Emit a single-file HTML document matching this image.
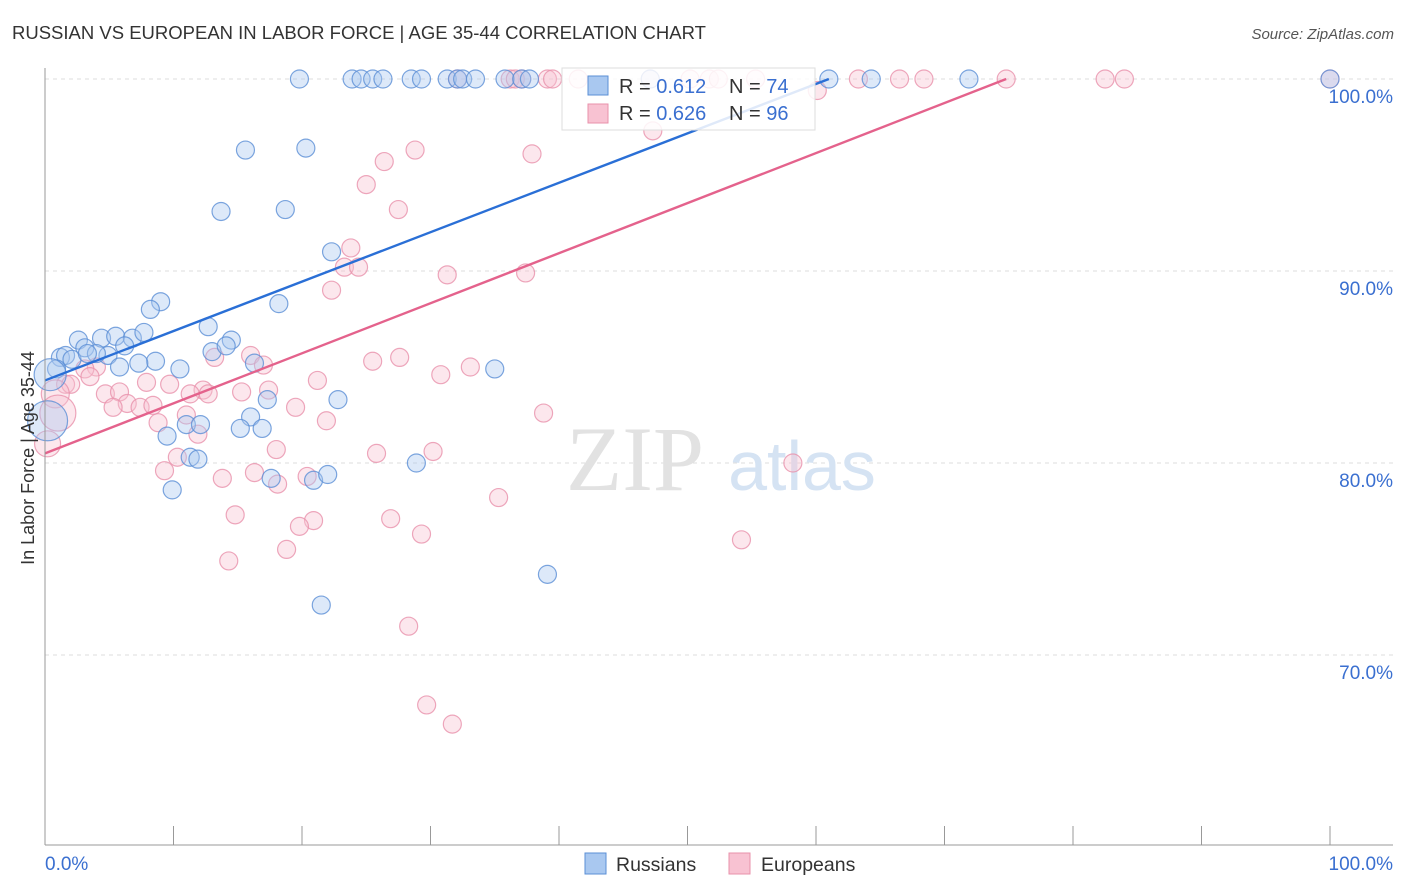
<!DOCTYPE html>
<html><head><meta charset="utf-8"><style>
body{margin:0;background:#fff;font-family:"Liberation Sans",sans-serif;}
svg{display:block}
</style></head><body>
<svg id="chart" width="1406" height="892">
<text x="12" y="39" font-size="18.5" fill="#333">RUSSIAN VS EUROPEAN IN LABOR FORCE | AGE 35-44 CORRELATION CHART</text>
<text x="1394" y="39" font-size="15" fill="#555" font-style="italic" text-anchor="end">Source: ZipAtlas.com</text>
<g id="grid"></g>
<g>
<text x="635" y="490" font-size="92" fill="#e2e2e2" font-family="Liberation Serif,serif" text-anchor="middle">ZIP</text>
<text x="802" y="490" font-size="70" fill="#d5e3f3" text-anchor="middle">atlas</text>
</g>
<g id="points"></g>
<g id="lines"></g>
<g id="axes"></g>
<text transform="translate(34,458) rotate(-90)" font-size="18" fill="#333" text-anchor="middle">In Labor Force | Age 35-44</text>
<g>
<rect x="562" y="68" width="253" height="62" fill="#fff" fill-opacity="0.85" stroke="#ddd"/>
<rect x="588" y="76" width="20" height="19" fill="#a9c8f0" stroke="#5b8fd6"/>
<rect x="588" y="104" width="20" height="19" fill="#f8c2d2" stroke="#e891ab"/>
<text x="619" y="93" font-size="20" fill="#333">R = <tspan fill="#3a6fd0">0.612</tspan></text>
<text x="729" y="93" font-size="20" fill="#333">N = <tspan fill="#3a6fd0">74</tspan></text>
<text x="619" y="120" font-size="20" fill="#333">R = <tspan fill="#3a6fd0">0.626</tspan></text>
<text x="729" y="120" font-size="20" fill="#333">N = <tspan fill="#3a6fd0">96</tspan></text>
</g>
<g>
<rect x="585" y="853" width="21" height="21" fill="#a9c8f0" stroke="#5b8fd6"/>
<text x="616" y="871" font-size="19.5" fill="#333">Russians</text>
<rect x="729" y="853" width="21" height="21" fill="#f8c2d2" stroke="#e891ab"/>
<text x="761" y="871" font-size="19.5" fill="#333">Europeans</text>
</g>
</svg>
<script>
const NS="http://www.w3.org/2000/svg";
const yTicks=[70,80,90,100];
const yTickLabels=["70.0%","80.0%","90.0%","100.0%"];
const xTickLabels=["0.0%","100.0%"];
// Russians (x %, y %)
const rusX=[19.8,23.9,24.6,25.5,26.3,28.5,29.3,31.3,32.1,32.5,33.5,35.8,37.1,37.7,47.1,61.0,64.3,71.9,100,
15.6,20.3,13.7,18.7,22.3,9.0,8.2,18.2,12.7,14.5,13.0,14.1,2.6,4.4,5.5,6.8,7.7,3.1,6.2,4.9,4.0,1.2,1.6,8.6,10.5,5.8,7.3,16.3,2.1,3.3,0.9,0.4,0.2,16.0,22.8,17.3,9.5,11.0,12.1,15.2,16.9,11.3,11.9,9.9,17.6,20.9,22.0,28.9,35.0,39.1,21.5];
const rusY=[100,100,100,100,100,100,100,100,100,100,100,100,100,100,100,100,100,100,100,
96.3,96.4,93.1,93.2,91.0,88.4,88.0,88.3,87.1,86.4,85.8,86.1,86.4,86.5,86.6,86.5,86.8,86.0,86.1,85.6,85.7,85.5,85.6,85.3,84.9,85.0,85.2,85.2,85.4,85.7,84.9,84.6,82.2,82.4,83.3,83.3,81.4,82.0,82.0,81.8,81.8,80.3,80.2,78.6,79.2,79.1,79.4,80.0,84.9,74.2,72.6];
const rusR=[9,9,9,9,9,9,9,9,9,9,9,9,9,9,9,9,9,9,9,
9,9,9,9,9,9,9,9,9,9,9,9,9,9,9,9,9,9,9,9,9,9,9,9,9,9,9,9,9,9,9,16,20,9,9,9,9,9,9,9,9,9,9,9,9,9,9,9,9,9,9];
// Europeans
const eurX=[32.1,36.2,36.6,37.1,39.1,39.5,41.5,47.1,50.2,51.7,52.4,55.3,60.1,63.3,66.5,68.4,74.8,82.5,84.0,100,
47.3,26.4,25.0,28.8,37.9,27.5,23.8,23.3,24.4,31.3,37.4,22.3,16.0,17.0,25.5,27.6,33.1,30.8,21.2,13.2,7.9,9.7,4.0,3.1,3.5,1.6,2.0,0.8,1.0,0.2,4.7,5.8,6.4,5.3,7.4,8.4,12.3,12.7,11.3,15.3,17.4,19.5,11.0,8.8,21.9,11.9,10.3,9.3,13.8,16.3,18.0,18.1,20.4,25.8,30.2,38.8,58.2,35.3,14.8,20.9,19.8,26.9,29.3,54.2,14.3,18.8,28.3,29.7,31.7];
const eurY=[100,100,100,100,100,100,100,100,100,100,100,100,99.4,100,100,100,100,100,100,100,
97.3,95.7,94.5,96.3,96.1,93.2,91.2,90.2,90.2,89.8,89.9,89.0,85.6,85.1,85.3,85.5,85.0,84.6,84.3,85.5,84.2,84.1,85.0,84.9,84.5,84.1,84.1,83.6,82.6,81.0,83.6,83.7,83.1,82.9,82.9,83.0,83.8,83.6,83.6,83.7,83.8,82.9,82.5,82.1,82.2,81.5,80.3,79.6,79.2,79.5,80.7,78.9,79.3,80.5,80.6,82.6,80.0,78.2,77.3,77.0,76.7,77.1,76.3,76.0,74.9,75.5,71.5,67.4,66.4];
const eurR=[9,9,9,9,9,9,9,9,9,9,9,9,9,9,9,9,9,9,9,9,
9,9,9,9,9,9,9,9,9,9,9,9,9,9,9,9,9,9,9,9,9,9,9,9,9,9,9,14,18,13,9,9,9,9,9,9,9,9,9,9,9,9,9,9,9,9,9,9,9,9,9,9,9,9,9,9,9,9,9,9,9,9,9,9,9,9,9,9,9];
const rusLine=[0,84.3,61,100];
const eurLine=[0,80.5,74.8,100];
const X0=45,X1=1330,Y100=79,PX=19.2;
const sx=v=>X0+(X1-X0)*v/100;
const sy=v=>Y100+(100-v)*PX;
const grid=document.getElementById('grid'),axes=document.getElementById('axes'),pts=document.getElementById('points'),lines=document.getElementById('lines');
function mk(tag,attrs,parent){const e=document.createElementNS(NS,tag);for(const k in attrs)e.setAttribute(k,attrs[k]);parent.appendChild(e);return e;}
yTicks.forEach((t,i)=>{
 const g=mk('line',{x1:45,x2:1393,y1:sy(t),y2:sy(t),stroke:'#ddd','stroke-dasharray':'4,4'},grid);
 
 
 const l=mk('text',{x:1393,y:sy(t)+24,'font-size':19,fill:'#3a6fd0','text-anchor':'end'},axes);
 l.textContent=yTickLabels[i];
 
 
});
let a=mk('line',{x1:45,x2:45,y1:68,y2:845,stroke:'#999'},axes);


a=mk('line',{x1:45,x2:1393,y1:845,y2:845,stroke:'#999'},axes);


for(let i=0;i<=10;i++){
 const t=mk('line',{x1:sx(i*10),x2:sx(i*10),y1:826,y2:845,stroke:'#999'},axes);
 
 
}
[[0,'start'],[100,'end']].forEach((p,i)=>{
 const l=mk('text',{x:i?1393:45,y:870,'font-size':19,fill:'#3a6fd0','text-anchor':p[1]},axes);
 l.textContent=xTickLabels[i];
 
 
});
function series(X,Y,R,fill,stroke,name){
 X.forEach((x,i)=>{
  const c=mk('circle',{cx:sx(x),cy:sy(Y[i]),r:R[i],fill:fill,'fill-opacity':0.4,stroke:stroke,'stroke-width':1.2,'stroke-opacity':0.8},pts);
  
  
 });
}
series(eurX,eurY,eurR,'#f8c2d2','#e891ab','european');
series(rusX,rusY,rusR,'#a9c8f0','#5b8fd6','russian');
let ln=mk('line',{x1:sx(rusLine[0]),y1:sy(rusLine[1]),x2:sx(rusLine[2]),y2:sy(rusLine[3]),stroke:'#2a6fd6','stroke-width':2.4},lines);


ln=mk('line',{x1:sx(eurLine[0]),y1:sy(eurLine[1]),x2:sx(eurLine[2]),y2:sy(eurLine[3]),stroke:'#e4628c','stroke-width':2.4},lines);


</script>
</body></html>
